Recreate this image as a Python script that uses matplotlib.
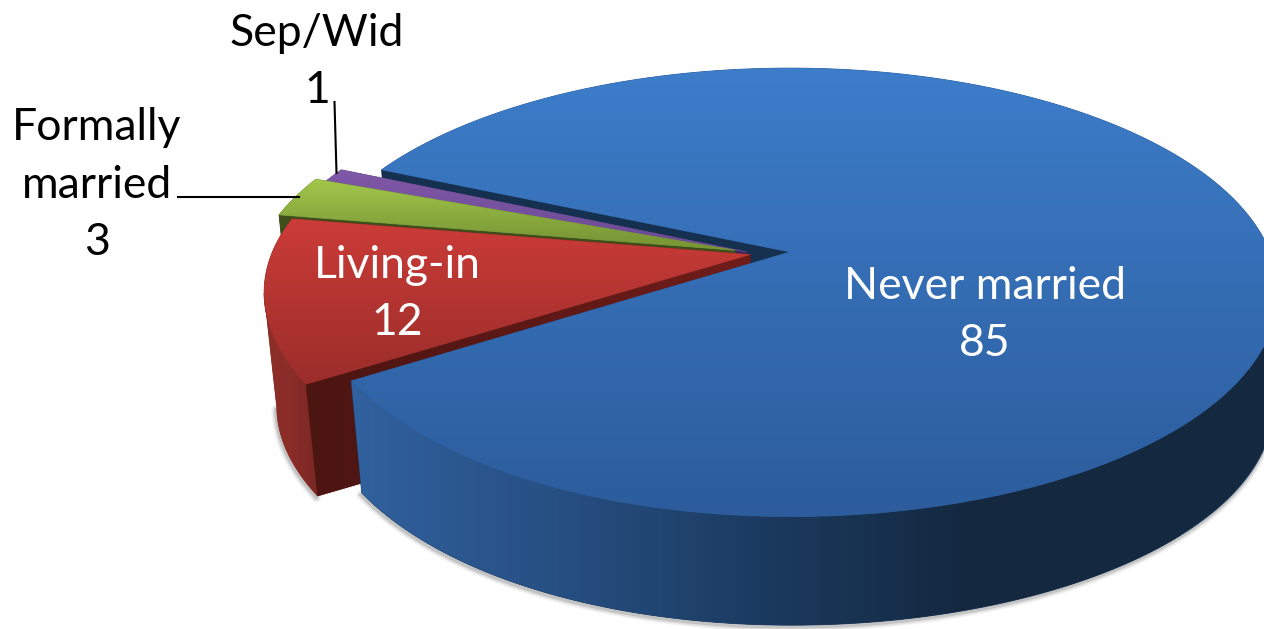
import numpy as np
import matplotlib
matplotlib.use("Agg")
import matplotlib.pyplot as plt
from matplotlib.colors import LinearSegmentedColormap as LSC
from matplotlib.patches import Polygon

# Data
categories = ["Never married", "Living-in", "Formally\nmarried", "Sep/Wid"]
values = [85, 12, 3, 1]

# Style: pseudo-3D projection of a tilted disc
W, H, K = 480.0, 217.0, 0.18
CX, CY = 790.0, 252.0
SHRINK, SHRINK_R, DEPTH = 0.976, 0.99, 115.0
START = 156.0
explode = [(0, 0), (-0.083, -0.012), (-0.115, 0.008), (-0.09, 0.0)]
top_cols = [("#3d7dca", "#2c5c9c", 68, 517), ("#cd3c38", "#9a2d2a", 215, 385),
            ("#a3c84c", "#7a9836", 178, 240), ("#7f58a8", "#6c4a94", 170, 250)]
side_cols = [["#31619e", "#274f82", "#1b3a5f", "#14283f", "#142840"],
             ["#8f2e29", "#8a2c28", "#7a2824"], ["#5d7228", "#5d7228"], ["#4a3070", "#4a3070"]]
wall_cols = [("#16304f", "#16304f"), ("#4b1512", "#701d1a"), ("#3e4e1b", "#3e4e1b"), ("#38245a", "#38245a")]
text_font = "Lato"
FS = 32
LS = 1.5

fig = plt.figure(figsize=(12.64, 6.29), dpi=100)
ax = fig.add_axes([0, 0, 1, 1])
ax.axis("off")


def proj(u, v, bottom=False):
    u, v = np.asarray(u, float), np.asarray(v, float)
    w = 1.0 / (1.0 + K * v)
    x = CX + W * u * w
    y = CY - H * v * w
    if bottom:
        x = CX + (x - CX) * np.where(x > CX, SHRINK_R, SHRINK)
        y = CY + (y - CY) * SHRINK + DEPTH
    return np.column_stack([x, y])


def rim(a0, a1, off, bottom=False, n=160):
    deg = np.linspace(a0, a1, n)
    t = np.radians(deg)
    r = 1 - 0.015 * np.exp(-(((deg % 360) - 212.0) / 30.0) ** 2)
    return proj(off[0] + r * np.cos(t), off[1] + r * np.sin(t), bottom)


def grad_fill(pts, colors, vertical, rng, z):
    poly = Polygon(pts, closed=True, fc="none", ec="none", zorder=z)
    ax.add_patch(poly)
    cmap = LSC.from_list("g", colors)
    g = np.linspace(0, 1, 256)
    arr = g[:, None] if vertical else g[None, :]
    ext = (0, 1264, rng[1], rng[0]) if vertical else (rng[0], rng[1], 629, 0)
    im = ax.imshow(arr, cmap=cmap, extent=ext, aspect="auto", zorder=z, origin="upper",
                   interpolation="bilinear")
    base = Polygon(pts, closed=True, fc=colors[-1], ec=colors[len(colors) // 2], lw=0.6, zorder=z - 0.01)
    ax.add_patch(base)
    im.set_clip_path(poly)


# Angular spans: blue first, running clockwise from START, then the others
total = sum(values)
blue_d = 360.0 * values[0] / total
blue_span = (START + 360 - blue_d, START + 360)
slices = [blue_span]
hi = blue_span[0]
for val in values[1:]:
    d = 360.0 * val / total
    slices.append((hi - d, hi))
    hi -= d


def wedge_top(i):
    lo, hi = slices[i]
    return np.vstack([proj(*explode[i]), rim(lo, hi, explode[i])])


def visible_wall(i):
    ang = slices[i][1]
    ex = explode[i]
    r_top = rim(ang, ang, ex, n=1)
    r_bot = rim(ang, ang, ex, True, n=1)
    return np.vstack([proj(*ex), r_top, r_bot, proj(ex[0], ex[1], True)])


def shadow(pts, z):
    for lw, al in [(9, 0.05), (6, 0.08), (3, 0.12)]:
        ax.plot(pts[:, 0] - 1, pts[:, 1] + 2, color="black", lw=lw * 0.72, alpha=al, zorder=z,
                solid_capstyle="round")


# order: blue wall, purple, green, red, blue
for order, i in enumerate([0, 3, 2, 1]):
    z = 2 + order
    if i == 1:
        lo, hi = slices[i]
        b = rim(190, hi, explode[i], True)
        shadow(b, z - 0.5)
        s = np.vstack([rim(190, hi, explode[i]), b[::-1]])
        grad_fill(s, side_cols[i], False, (s[:, 0].min(), s[:, 0].max()), z + 0.05)
    wall = visible_wall(i)
    grad_fill(wall, wall_cols[i], False, (wall[:, 0].min(), wall[:, 0].max()), z + 0.1)
    if i != 0:
        c0, c1, y0, y1 = top_cols[i]
        grad_fill(wedge_top(i), (c0, c1), True, (y0, y1), z + 0.2)

# blue side and top
z = 8
b = rim(slices[0][0], 360, explode[0], True)
shadow(b, z - 0.5)
s = np.vstack([rim(slices[0][0], 340, explode[0]), rim(340, 360, explode[0]), b[::-1]])
grad_fill(s, side_cols[0], False, (350, 1180), z)
c0, c1, y0, y1 = top_cols[0]
grad_fill(wedge_top(0), (c0, c1), True, (y0, y1), z + 0.2)

ax.set_xlim(0, 1264)
ax.set_ylim(629, 0)

# Leader lines
ax.plot([334.5, 336.5], [102, 173], color="black", lw=1.5, zorder=6)
ax.plot([178, 299], [197, 197], color="black", lw=1.5, zorder=6)

# Labels
for (x, y), cat, val, col in zip([(985, 315), (397, 294), (97, 185), (317, 62)], categories, values,
                                 ["white", "white", "black", "black"]):
    ax.text(x, y, f"{cat}\n{val}", color=col, ha="center", va="center",
            fontsize=FS, family=text_font, linespacing=LS, zorder=12)

fig.savefig("out.png", dpi=100)
